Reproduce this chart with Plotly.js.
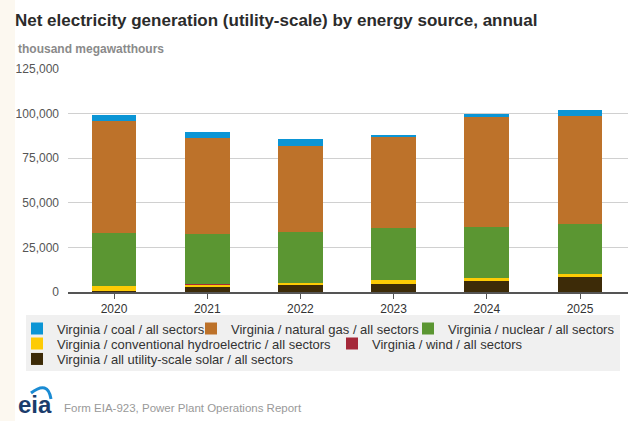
<!DOCTYPE html>
<html>
<head>
<meta charset="utf-8">
<script src="https://cdn.plot.ly/plotly-3.0.1.min.js"></script>
<style>html,body{margin:0;padding:0;background:#fff;}#chart{width:630px;height:421px;}</style>
</head>
<body>
<div id="chart"></div>
<script>
// ---- data (thousand megawatthours) ----
const years = ["2020", "2021", "2022", "2023", "2024", "2025"];
const coal = [3.3, 3.6, 3.5, 1.3, 2.0, 3.5].map(v => v * 1000);
const naturalGas = [62.9, 53.7, 48.5, 50.8, 61.2, 60.7].map(v => v * 1000);
const nuclear = [29.8, 28.2, 28.2, 29.3, 28.5, 27.9].map(v => v * 1000);
const hydro = [2.5, 1.3, 1.5, 2.0, 1.7, 1.8].map(v => v * 1000);
const wind = [0.01, 0.01, 0.01, 0.02, 0.03, 0.05].map(v => v * 1000);
const solar = [0.6, 2.9, 3.8, 4.6, 6.4, 8.2].map(v => v * 1000);
const yTicks = [0, 25000, 50000, 75000, 100000, 125000];

// pixel helpers for paper coordinates (plot area: x 68..628, y 69..292)
const L = 68, R = 628, T = 69, B = 292;
const px = x => (x - L) / (R - L);
const py = y => (B - y) / (B - T);

const LEG_FONT = "Liberation Sans, Arial, sans-serif";
const LEG_SIZE = 13;

// stacking order bottom -> top; each legend entry placed where the reference has it
// tx = x pixel where the entry's text starts, row = legend row
const series = [
  {name: "Virginia / all utility-scale solar / all sectors", y: solar, color: "#3d2b08", lg: "legend6", row: 2, tx: 58},
  {name: "Virginia / conventional hydroelectric / all sectors", y: hydro, color: "#fdcb05", lg: "legend4", row: 1, tx: 58},
  {name: "Virginia / wind / all sectors", y: wind, color: "#a5293a", lg: "legend5", row: 1, tx: 373},
  {name: "Virginia / nuclear / all sectors", y: nuclear, color: "#5b9632", lg: "legend3", row: 0, tx: 449},
  {name: "Virginia / natural gas / all sectors", y: naturalGas, color: "#bd722a", lg: "legend2", row: 0, tx: 232},
  {name: "Virginia / coal / all sectors", y: coal, color: "#0b95d5", lg: "legend", row: 0, tx: 58}
];
const rowY = [328.5, 343.5, 359];

const traces = series.map(s => ({
  type: "bar", x: years, y: s.y, name: s.name, legend: s.lg,
  marker: {color: s.color, line: {width: 0}},
  width: 0.48, hoverinfo: "x+y+name"
}));

const layout = {
  width: 630, height: 421,
  margin: {l: L, r: 630 - R, t: T, b: 421 - B, pad: 0, autoexpand: false},
  paper_bgcolor: "#ffffff", plot_bgcolor: "#ffffff",
  font: {family: "Liberation Sans, Arial, sans-serif", color: "#333"},
  barmode: "stack",
  showlegend: true,
  title: {text: "Net electricity generation (utility-scale) by energy source, annual",
          font: {size: 17, color: "#2b2b2b", family: "Liberation Sans, Arial, sans-serif", weight: "bold"},
          x: 15 / 630, xanchor: "left", xref: "container", y: 1 - 20 / 421, yanchor: "middle", yref: "container"},
  xaxis: {type: "category", range: [-0.494, 5.515], showgrid: false,
          showline: true, linecolor: "#555", linewidth: 1.5,
          ticks: "outside", ticklen: 5, tickcolor: "#555",
          tickfont: {size: 12, color: "#333"}, fixedrange: true},
  yaxis: {range: [0, 125000], tickvals: yTicks, tickformat: ",",
          showgrid: true, gridcolor: "#d0d0d0", gridwidth: 1,
          zeroline: false, showline: false, ticks: "",
          ticklabelstandoff: 8,
          tickfont: {size: 12, color: "#555"}, fixedrange: true},
  annotations: [
    {text: "thousand megawatthours", xref: "paper", yref: "paper", x: px(16), y: py(49),
     xanchor: "left", yanchor: "middle", showarrow: false,
     font: {size: 12, color: "#8a8a8a", weight: "bold"}},
    {text: "<b>eia</b>", xref: "paper", yref: "paper", x: px(16), y: py(404),
     xanchor: "left", yanchor: "middle", showarrow: false,
     font: {size: 24, color: "#1b3c6b", family: "Liberation Sans, Arial, sans-serif"}},
    {text: "Form EIA-923, Power Plant Operations Report", xref: "paper", yref: "paper",
     x: px(62), y: py(408), xanchor: "left", yanchor: "middle", showarrow: false,
     font: {size: 11.5, color: "#999", family: "Liberation Sans, Arial, sans-serif"}}
  ],
  shapes: [
    {type: "rect", xref: "paper", yref: "paper", x0: px(0), x1: px(15), y0: py(421), y1: py(0),
     fillcolor: "#fcf8f0", line: {width: 0}, layer: "below"},
    {type: "rect", xref: "paper", yref: "paper", x0: px(26), x1: px(620), y0: py(371), y1: py(315),
     fillcolor: "#f0f0f0", line: {width: 0}, layer: "below"},
    {type: "path", xref: "paper", yref: "paper",
     path: `M ${px(31)},${py(393)} Q ${px(48)},${py(380)} ${px(51)},${py(399)}`,
     line: {color: "#1a8bd3", width: 3}}
  ]
};

series.forEach(s => {
  layout[s.lg] = {orientation: "h", x: px(s.tx - 41), xanchor: "left",
    y: py(rowY[s.row]), yanchor: "middle",
    bgcolor: "rgba(0,0,0,0)", borderwidth: 0,
    font: {size: LEG_SIZE, color: "#333", family: LEG_FONT},
    itemclick: false};
});

Plotly.newPlot("chart", traces, layout, {displayModeBar: false, staticPlot: true});
</script>
</body>
</html>
